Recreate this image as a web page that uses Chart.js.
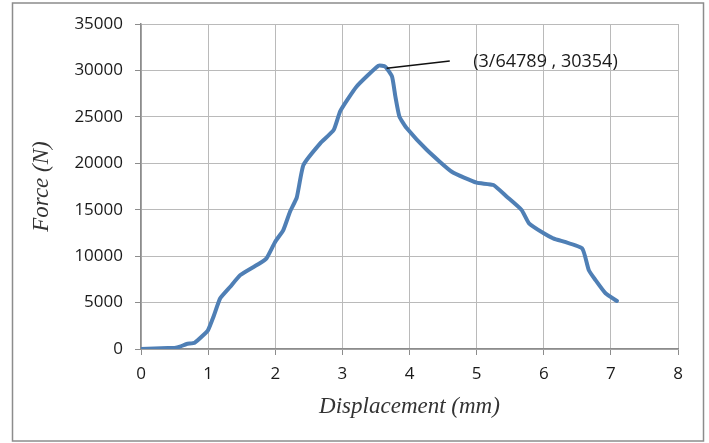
<!DOCTYPE html>
<html lang="en">
<head>
  <meta charset="UTF-8" />
  <title>Force – Displacement</title>
  <script src="https://cdn.jsdelivr.net/npm/chart.js"></script>
  <style>
    html, body { margin: 0; padding: 0; background: #fff; }
    canvas { display: block; }
  </style>
</head>
<body>
<canvas id="forceChart" width="709" height="443"></canvas>

<script>
  // values
  const displacement = [0, 0.2, 0.4, 0.5, 0.58, 0.68, 0.8, 0.93, 1.0, 1.08, 1.18, 1.33, 1.48, 1.77, 1.87,
    2.0, 2.12, 2.22, 2.32, 2.42, 2.67, 2.87, 2.97, 3.21, 3.54, 3.64, 3.74, 3.79, 3.85, 3.96,
    4.26, 4.63, 5.0, 5.25, 5.45, 5.67, 5.78, 6.0, 6.14, 6.57, 6.67, 6.77, 6.92, 7.09];
  const force = [0, 50, 100, 120, 250, 540, 680, 1500, 2050, 3480, 5460, 6710, 7970, 9230, 9770,
    11560, 12810, 14790, 16300, 19810, 22150, 23580, 25650, 28250, 30510, 30400, 29330, 27170, 25020, 23770,
    21430, 19090, 17910, 17660, 16400, 14970, 13540, 12460, 11920, 10840, 8510, 7430, 6000, 5170];

  const xTicks = [0, 1, 2, 3, 4, 5, 6, 7, 8];
  const yTicks = [0, 5000, 10000, 15000, 20000, 25000, 30000, 35000];

  // peak label: leader line from curve to text
  const peakLabel = '(3/64789 , 30354)';
  const leaderFrom = [3.66, 30230];
  const leaderTo = [4.6, 31010];
  const labelAt = [4.95, 30900];

  const points = displacement.map((d, i) => ({ x: d, y: force[i] }));

  const extras = {
    id: 'extras',
    beforeDraw(chart) {
      const c = chart.ctx;
      c.save();
      c.strokeStyle = '#8c8c8c';
      c.lineWidth = 1.5;
      c.strokeRect(12.5, 3, 691, 438);
      c.restore();
    },
    afterDatasetsDraw(chart) {
      const c = chart.ctx;
      const xs = chart.scales.x, ys = chart.scales.y;
      c.save();
      c.strokeStyle = '#111';
      c.lineWidth = 1.6;
      c.beginPath();
      c.moveTo(xs.getPixelForValue(leaderFrom[0]), ys.getPixelForValue(leaderFrom[1]));
      c.lineTo(xs.getPixelForValue(leaderTo[0]), ys.getPixelForValue(leaderTo[1]));
      c.stroke();
      c.fillStyle = '#1a1a1a';
      c.font = '18px "Open Sans"';
      c.textBaseline = 'middle';
      c.fillText(peakLabel, xs.getPixelForValue(labelAt[0]), ys.getPixelForValue(labelAt[1]));
      c.restore();
    }
  };

  const tickFont = { family: '"Open Sans"', size: 17 };
  const titleFont = { family: '"Liberation Serif"', size: 23, style: 'italic' };

  new Chart(document.getElementById('forceChart'), {
    type: 'scatter',
    data: {
      datasets: [{
        data: points,
        showLine: true,
        borderColor: '#4f7fb5',
        borderWidth: 4,
        pointRadius: 0,
        tension: 0.15,
        borderJoinStyle: 'round',
        borderCapStyle: 'round'
      }]
    },
    options: {
      responsive: false,
      animation: false,
      devicePixelRatio: 1,
      layout: { padding: { left: 0, top: 24, right: 31, bottom: 0 } },
      plugins: { legend: { display: false }, tooltip: { enabled: false } },
      scales: {
        x: {
          type: 'linear',
          min: 0, max: 8,
          afterBuildTicks: s => { s.ticks = xTicks.map(v => ({ value: v })); },
          afterFit: s => { s.height = 94; },
          grid: { color: '#bababa', tickColor: '#8c8c8c', tickLength: 6 },
          border: { color: '#8c8c8c', width: 1.5 },
          ticks: { color: '#1a1a1a', font: tickFont, padding: 9, maxRotation: 0 },
          title: { display: true, text: 'Displacement (mm)', color: '#333', font: titleFont, padding: { top: 0, bottom: 22 } }
        },
        y: {
          min: 0, max: 35000,
          afterBuildTicks: s => { s.ticks = yTicks.map(v => ({ value: v })); },
          afterFit: s => { s.width = 141; },
          grid: { color: '#bababa', tickColor: '#8c8c8c', tickLength: 6 },
          border: { color: '#8c8c8c', width: 1.5 },
          ticks: { color: '#1a1a1a', font: tickFont, padding: 12, callback: v => String(v) },
          title: { display: true, text: 'Force (N)', color: '#333', font: titleFont, padding: { top: 28, bottom: 0 } }
        }
      }
    },
    plugins: [extras]
  });
</script>
</body>
</html>
